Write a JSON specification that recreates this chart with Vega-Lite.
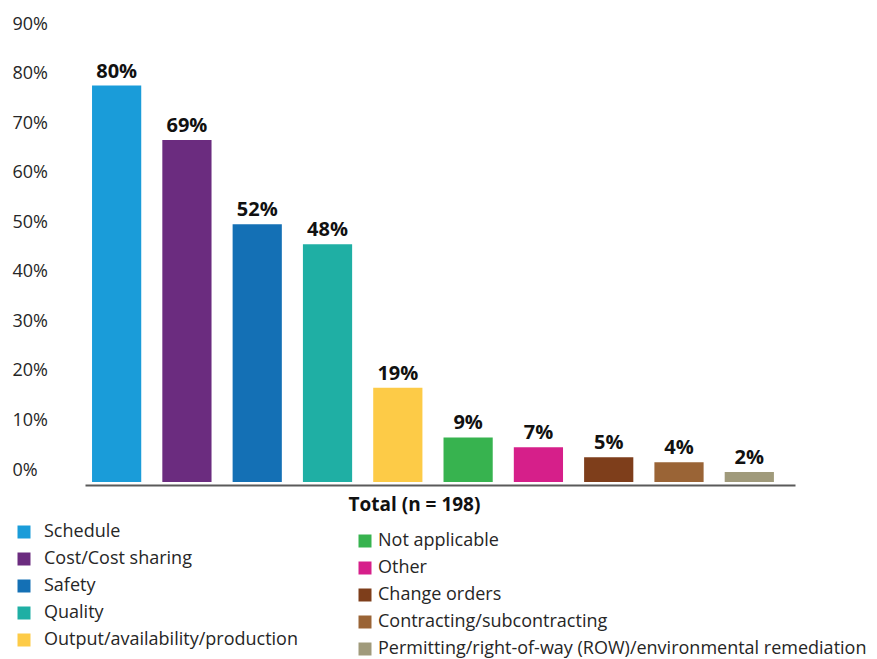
{
  "$schema": "https://vega.github.io/schema/vega-lite/v6.json",
  "width": 710,
  "height": 446,
  "autosize": {"type": "none"},
  "padding": {"left": 85, "top": 36, "right": 82, "bottom": 177},
  "background": "white",
  "config": {"view": {"stroke": null}, "font": "Open Sans"},
  "data": {
    "values": [
      {"category": "Schedule", "value": 0.80, "group": "A"},
      {"category": "Cost/Cost sharing", "value": 0.69, "group": "A"},
      {"category": "Safety", "value": 0.52, "group": "A"},
      {"category": "Quality", "value": 0.48, "group": "A"},
      {"category": "Output/availability/production", "value": 0.19, "group": "A"},
      {"category": "Not applicable", "value": 0.09, "group": "B"},
      {"category": "Other", "value": 0.07, "group": "B"},
      {"category": "Change orders", "value": 0.05, "group": "B"},
      {"category": "Contracting/subcontracting", "value": 0.04, "group": "B"},
      {"category": "Permitting/right-of-way (ROW)/environmental remediation", "value": 0.02, "group": "B"}
    ]
  },
  "encoding": {
    "x": {
      "field": "category",
      "type": "nominal",
      "scale": {
        "domain": ["Schedule", "Cost/Cost sharing", "Safety", "Quality", "Output/availability/production", "Not applicable", "Other", "Change orders", "Contracting/subcontracting", "Permitting/right-of-way (ROW)/environmental remediation"],
        "paddingInner": 0.3,
        "paddingOuter": 0.2,
        "align": 0.25
      },
      "axis": {
        "labels": false,
        "ticks": false,
        "domain": true,
        "domainColor": "#5a5a5a",
        "domainWidth": 2,
        "offset": 3,
        "title": "Total (n = 198)",
        "titleFont": "Open Sans",
        "titleFontSize": 19,
        "titleFontWeight": "bold",
        "titleColor": "#111111",
        "titleAnchor": "start",
        "titleAlign": "left",
        "titleBaseline": "top",
        "titleX": 263,
        "titleY": 10
      }
    },
    "y": {
      "field": "value",
      "type": "quantitative",
      "scale": {"domain": [0, 0.9], "nice": false},
      "axis": {
        "values": [0, 0.1, 0.2, 0.3, 0.4, 0.5, 0.6, 0.7, 0.8, 0.9],
        "format": ".0%",
        "grid": false,
        "domain": false,
        "ticks": false,
        "tickSize": 0,
        "labelAlign": "left",
        "labelPadding": 73,
        "labelOffset": -12,
        "labelFont": "Open Sans",
        "labelFontSize": 18,
        "labelColor": "#262626",
        "title": null
      }
    }
  },
  "layer": [
    {
      "transform": [{"filter": "datum.group === 'A'"}],
      "mark": {"type": "bar"},
      "encoding": {
        "color": {
          "field": "category",
          "type": "nominal",
          "scale": {
            "domain": ["Schedule", "Cost/Cost sharing", "Safety", "Quality", "Output/availability/production"],
            "range": ["#1A9CD9", "#6B2C7F", "#1470B5", "#1FAFA4", "#FDCB47"]
          },
          "legend": {
            "orient": "none",
            "legendX": -70,
            "legendY": 487,
            "title": null,
            "symbolType": "square",
            "symbolSize": 169,
            "symbolStrokeWidth": 0,
            "labelFont": "Open Sans",
            "labelFontSize": 18,
            "labelColor": "#262626",
            "labelOffset": 11,
            "rowPadding": 9,
            "labelLimit": 400
          }
        }
      }
    },
    {
      "transform": [{"filter": "datum.group === 'B'"}],
      "mark": {"type": "bar"},
      "encoding": {
        "color": {
          "field": "category",
          "type": "nominal",
          "scale": {
            "domain": ["Not applicable", "Other", "Change orders", "Contracting/subcontracting", "Permitting/right-of-way (ROW)/environmental remediation"],
            "range": ["#37B34F", "#D61F8A", "#7E3E1B", "#9A6436", "#A09A7B"]
          },
          "legend": {
            "orient": "none",
            "legendX": 271,
            "legendY": 496,
            "title": null,
            "symbolType": "square",
            "symbolSize": 169,
            "symbolStrokeWidth": 0,
            "labelFont": "Open Sans",
            "labelFontSize": 18,
            "labelColor": "#262626",
            "labelOffset": 4,
            "rowPadding": 9,
            "labelLimit": 600
          }
        }
      }
    },
    {
      "mark": {"type": "text", "baseline": "alphabetic", "dy": -8, "fontSize": 20, "fontWeight": "bold", "font": "Open Sans", "color": "#111111"},
      "encoding": {
        "text": {"field": "value", "type": "quantitative", "format": ".0%"}
      }
    }
  ],
  "resolve": {"scale": {"color": "independent"}}
}
